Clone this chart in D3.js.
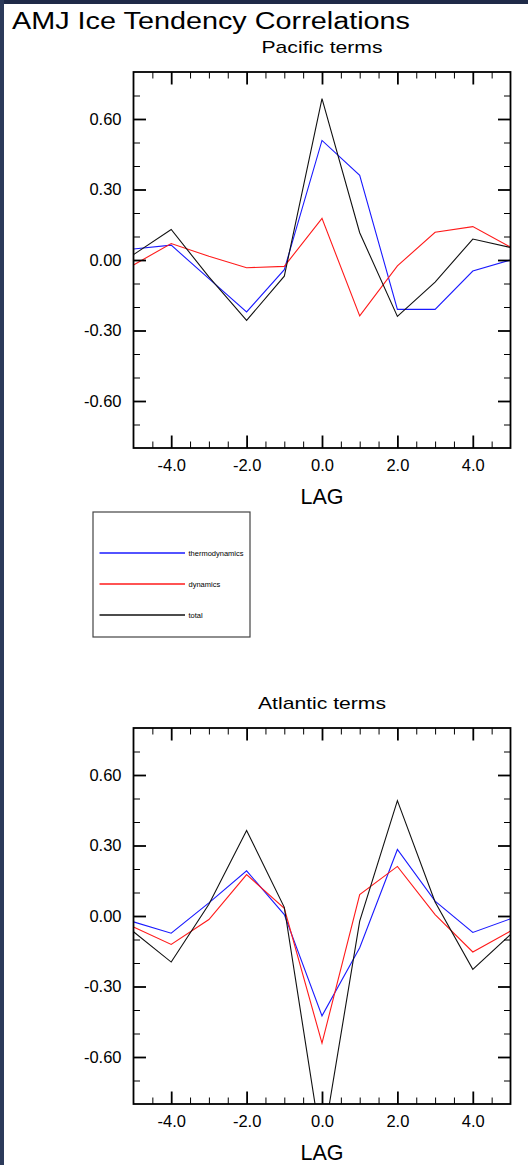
<!DOCTYPE html>
<html>
<head>
<meta charset="utf-8">
<script src="https://cdn.jsdelivr.net/npm/d3@7"></script>
<style>
  body { margin: 0; background: #fff; }
  svg { display: block; }
  svg text { font-family: "Liberation Sans", Arial, Helvetica, sans-serif; fill: #000; }
</style>
</head>
<body>
<svg id="chart" width="528" height="1165"></svg>
<script>
// lag values (x) shared by both panels
const lags = [-5, -4, -3, -2, -1, 0, 1, 2, 3, 4, 5];

// Pacific terms
const pacificThermo = [0.047, 0.063, -0.079, -0.221, -0.041, 0.509, 0.36, -0.21, -0.21, -0.047, 0.0];
const pacificDyn = [-0.021, 0.07, 0.016, -0.033, -0.027, 0.177, -0.238, -0.025, 0.118, 0.142, 0.055];
const pacificTotal = [0.023, 0.13, -0.072, -0.257, -0.069, 0.687, 0.116, -0.24, -0.094, 0.089, 0.053];

// Atlantic terms
const atlanticThermo = [-0.025, -0.073, 0.056, 0.192, 0.006, -0.425, -0.135, 0.283, 0.063, -0.07, -0.012];
const atlanticDyn = [-0.047, -0.121, -0.015, 0.176, 0.033, -0.541, 0.091, 0.211, 0.006, -0.153, -0.064];
const atlanticTotal = [-0.067, -0.196, 0.05, 0.364, 0.037, -0.99, -0.022, 0.491, 0.06, -0.227, -0.079];

const xMajor = [-4, -2, 0, 2, 4];
const yMajor = [0.6, 0.3, 0, -0.3, -0.6];
const seriesNames = ["thermodynamics", "dynamics", "total"];
const seriesColors = ["#1a1aff", "#ff1a1a", "#111111"];

const locale = d3.formatLocale({ decimal: ".", thousands: ",", grouping: [3], currency: ["", ""], minus: "-" });

const svg = d3.select("#chart");

// dark frame strips round the page
svg.append("rect").attr("x", 0).attr("y", 0).attr("width", 528).attr("height", 4).attr("fill", "#1f2a48");
svg.append("rect").attr("x", 0).attr("y", 0).attr("width", 4).attr("height", 1165).attr("fill", "#2c3a5a");

svg.append("text")
  .attr("x", 12).attr("y", 29)
  .attr("font-size", 23)
  .attr("textLength", 398)
  .attr("lengthAdjust", "spacingAndGlyphs")
  .text("AMJ Ice Tendency Correlations");

function panel(id, title, titleLen, top, data) {
  const left = 133.5, right = 510.5, bottom = top + 376;
  const x = d3.scaleLinear().domain([-5, 5]).range([left, right]);
  const y = d3.scaleLinear().domain([-0.8, 0.8]).range([bottom, top]);
  const xMinor = d3.range(-4.5, 5, 0.5).filter(v => xMajor.indexOf(v) < 0);
  const yMinor = d3.range(-7, 8).map(v => v / 10).filter(v => !yMajor.some(m => Math.abs(m - v) < 1e-9));

  const g = svg.append("g");

  g.append("text")
    .attr("x", (left + right) / 2 - titleLen / 2).attr("y", top - 19)
    .attr("font-size", 17)
    .attr("textLength", titleLen)
    .attr("lengthAdjust", "spacingAndGlyphs")
    .text(title);

  g.append("clipPath").attr("id", id)
    .append("rect").attr("x", left).attr("y", top).attr("width", right - left).attr("height", bottom - top);

  const line = d3.line().x((d, i) => x(lags[i])).y(d => y(d));
  g.append("g").attr("clip-path", `url(#${id})`)
    .selectAll("path")
    .data(data)
    .enter().append("path")
    .attr("d", d => line(d))
    .attr("fill", "none")
    .attr("stroke", (d, i) => seriesColors[i])
    .attr("stroke-width", 1.1);

  const fmt = locale.format(".1f");
  const yfmt = locale.format(".2f");

  // major ticks, pointing in, on all four sides
  const axes = [
    [d3.axisBottom(x).tickValues(xMajor).tickFormat(fmt).tickPadding(11), `translate(0,${bottom})`],
    [d3.axisTop(x).tickValues(xMajor).tickFormat(""), `translate(0,${top})`],
    [d3.axisLeft(y).tickValues(yMajor).tickFormat(yfmt).tickPadding(12), `translate(${left},0)`],
    [d3.axisRight(y).tickValues(yMajor).tickFormat(""), `translate(${right},0)`]
  ];
  axes.forEach(([ax, tr]) => {
    const a = g.append("g").attr("transform", tr)
      .call(ax.tickSize(-12.5));
    a.select(".domain").remove();
    a.attr("font-family", null).attr("font-size", 16.5);
    a.selectAll("line").attr("stroke", "#000").attr("stroke-width", 1.8);
    a.selectAll("text").attr("fill", "#000");
  });

  const minors = [
    [d3.axisBottom(x).tickValues(xMinor), `translate(0,${bottom})`],
    [d3.axisTop(x).tickValues(xMinor), `translate(0,${top})`],
    [d3.axisLeft(y).tickValues(yMinor), `translate(${left},0)`],
    [d3.axisRight(y).tickValues(yMinor), `translate(${right},0)`]
  ];
  minors.forEach(([ax, tr]) => {
    const a = g.append("g").attr("transform", tr)
      .call(ax.tickSize(-6.5).tickFormat(""));
    a.select(".domain").remove();
    a.selectAll("line").attr("stroke", "#000").attr("stroke-width", 1);
  });

  g.append("rect")
    .attr("x", left).attr("y", top)
    .attr("width", right - left).attr("height", bottom - top)
    .attr("fill", "none").attr("stroke", "#000").attr("stroke-width", 1.8);

  g.append("text")
    .attr("x", (left + right) / 2).attr("y", bottom + 56)
    .attr("text-anchor", "middle")
    .attr("font-size", 21.5)
    .text("LAG");
}

panel("clipPac", "Pacific terms", 121, 72, [pacificThermo, pacificDyn, pacificTotal]);
panel("clipAtl", "Atlantic terms", 128, 728, [atlanticThermo, atlanticDyn, atlanticTotal]);

// legend
const lg = svg.append("g");
lg.append("rect")
  .attr("x", 93).attr("y", 512)
  .attr("width", 157).attr("height", 125)
  .attr("fill", "none").attr("stroke", "#444").attr("stroke-width", 1.2);

const item = lg.selectAll(".item")
  .data(seriesNames)
  .enter().append("g")
  .attr("class", "item")
  .attr("transform", (d, i) => `translate(0,${553 + i * 31})`);

item.append("line")
  .attr("x1", 99.5).attr("x2", 185)
  .attr("stroke", d => seriesColors[seriesNames.indexOf(d)])
  .attr("stroke-width", 1.4);

item.append("text")
  .attr("x", 188.5).attr("y", 2.5)
  .attr("font-size", 7.5)
  .text(d => d);
</script>
</body>
</html>
